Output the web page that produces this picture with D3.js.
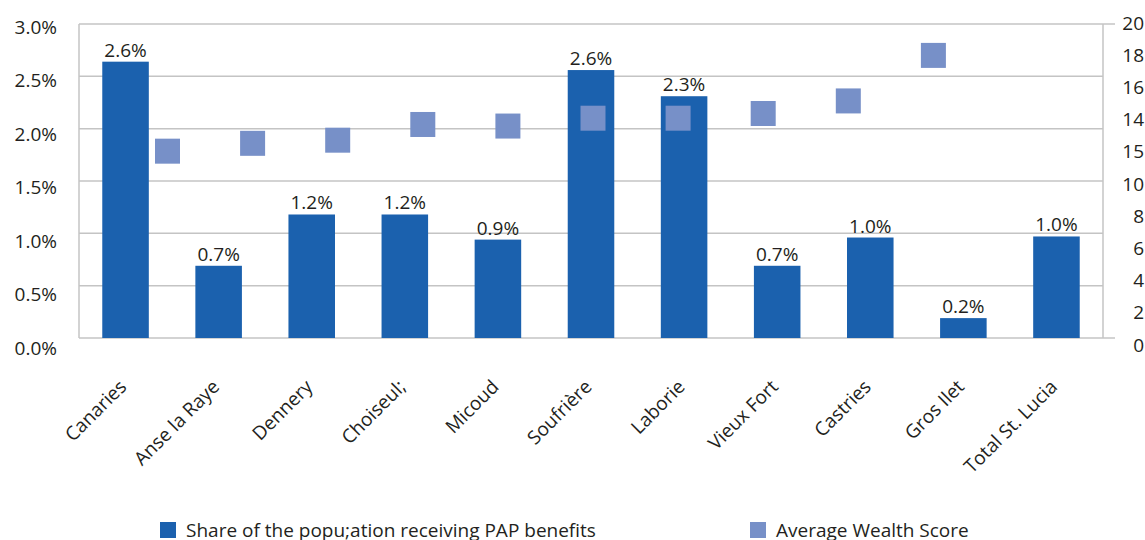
<!DOCTYPE html>
<html>
<head>
<meta charset="utf-8">
<script src="https://cdn.jsdelivr.net/npm/d3@7"></script>
<style>
	body { margin: 0; background: #fff; }
	svg text { font-family: "Open Sans", "Noto Sans", sans-serif; fill: #231f20; }
</style>
</head>
<body>
<svg id="chart" width="1145" height="540"></svg>
<script>
// districts along the x axis
var districts = ["Canaries", "Anse la Raye", "Dennery", "Choiseul;", "Micoud", "Soufrière",
	"Laborie", "Vieux Fort", "Castries", "Gros Ilet", "Total St. Lucia"];
// share of the population receiving PAP benefits (fraction)
var papShare = [0.0264, 0.0069, 0.0118, 0.0118, 0.0094, 0.0256, 0.0231, 0.0069, 0.0096, 0.0019, 0.0097];
// average wealth score (no marker for the total)
var wealthScore = [11.9, 12.4, 12.6, 13.6, 13.5, 14.0, 14.0, 14.3, 15.1, 18.0, null];
// tick labels as printed
var leftTicks = [0, 0.005, 0.01, 0.015, 0.02, 0.025, 0.03];
var rightTicks = [0, 2, 4, 6, 8, 10, 12, 14, 16, 18, 20];
var rightTickLabels = ["0", "2", "4", "6", "8", "10", "15", "14", "16", "18", "20"];
var legendLabels = ["Share of the popu;ation receiving PAP benefits", "Average Wealth Score"];

var barColor = "#1b61ae",
	squareColor = "#7790c8",
	gridColor = "#c4c4c4",
	fontSize = "19px";

var svg = d3.select("#chart"),
	plot = { left: 79, right: 1103, top: 24, bottom: 338 };

var x = d3.scaleBand().domain(districts).range([plot.left, plot.right]).paddingInner(0.5).paddingOuter(0.25);
var xSq = d3.scalePoint().domain(districts).range([167.5, 1018.5]);
var y = d3.scaleLinear().domain([0, 0.03]).range([plot.bottom, plot.top]);
var y2 = d3.scaleLinear().domain([0, 20]).range([plot.bottom, plot.top]);
// tick labels sit a bit off the gridlines in the original
var yLab = d3.scaleLinear().domain([0, 0.03]).range([348, 27]);
var y2Lab = d3.scaleLinear().domain([0, 20]).range([345, 23]);

/*
gridlines & frame
*/
var g_grid = svg.append("g").attr("class", "grid");
g_grid.selectAll("line.grad_line")
	.data(leftTicks).enter()
	.append("line")
	.attr("class", "grad_line")
	.attr("x1", plot.left)
	.attr("x2", function(d) { return (d === 0 || d === 0.03) ? plot.right + 12 : plot.right; })
	.attr("y1", function(d) { return y(d); })
	.attr("y2", function(d) { return y(d); })
	.attr("stroke", gridColor)
	.attr("stroke-width", 1.5);
g_grid.selectAll("line.vert")
	.data([plot.left, plot.right]).enter()
	.append("line")
	.attr("class", "vert")
	.attr("x1", function(d) { return d; })
	.attr("x2", function(d) { return d; })
	.attr("y1", plot.top)
	.attr("y2", plot.bottom)
	.attr("stroke", gridColor)
	.attr("stroke-width", 1.5);

/*
axes labels
*/
var yAxis = d3.axisLeft(yLab).tickValues(leftTicks).tickSize(0).tickPadding(0)
	.tickFormat(d3.format(".1%"));
var gy = svg.append("g").attr("transform", "translate(57,0)").call(yAxis);
gy.select(".domain").remove();
gy.selectAll("text").style("font-size", fontSize);

var y2Axis = d3.axisRight(y2Lab).tickValues(rightTicks).tickSize(0).tickPadding(0)
	.tickFormat(function(d, i) { return rightTickLabels[i]; });
var gy2 = svg.append("g").attr("transform", "translate(1144,0)").call(y2Axis);
gy2.select(".domain").remove();
gy2.selectAll("text").attr("text-anchor", "end").style("font-size", fontSize);

var xAxis = d3.axisBottom(x).tickSize(0).tickPadding(0);
var gx = svg.append("g").attr("transform", "translate(0," + plot.bottom + ")").call(xAxis);
gx.select(".domain").remove();
gx.selectAll("text")
	.attr("text-anchor", "end")
	.attr("dy", 0)
	.attr("y", 0)
	.attr("transform", "translate(2,50) rotate(-45)")
	.style("font-size", fontSize);

/*
bars
*/
svg.append("g").selectAll("rect")
	.data(papShare).enter()
	.append("rect")
	.attr("x", function(d, i) { return x(districts[i]); })
	.attr("width", x.bandwidth())
	.attr("y", function(d) { return y(d); })
	.attr("height", function(d) { return plot.bottom - y(d); })
	.attr("fill", barColor);

svg.append("g").selectAll("text")
	.data(papShare).enter()
	.append("text")
	.attr("x", function(d, i) { return x(districts[i]) + x.bandwidth() / 2; })
	.attr("y", function(d) { return y(d) - 5; })
	.attr("text-anchor", "middle")
	.style("font-size", fontSize)
	.text(function(d) { return d3.format(".1%")(d); });

/*
wealth score markers
*/
var sq = 25;
svg.append("g").selectAll("rect")
	.data(wealthScore.map(function(d, i) { return { k: districts[i], v: d }; })
		.filter(function(d) { return d.v !== null; }))
	.enter()
	.append("rect")
	.attr("x", function(d) { return xSq(d.k) - sq / 2; })
	.attr("y", function(d) { return y2(d.v) - sq / 2; })
	.attr("width", sq)
	.attr("height", sq)
	.attr("fill", squareColor);

/*
legend
*/
var legend = svg.append("g").selectAll("g")
	.data(legendLabels).enter()
	.append("g")
	.attr("transform", function(d, i) { return "translate(" + (i === 0 ? 160 : 750) + ",522)"; });
legend.append("rect")
	.attr("width", 16)
	.attr("height", 16)
	.attr("fill", function(d, i) { return i === 0 ? barColor : squareColor; });
legend.append("text")
	.attr("x", 26)
	.attr("y", 15)
	.style("font-size", fontSize)
	.text(function(d) { return d; });
</script>
</body>
</html>
